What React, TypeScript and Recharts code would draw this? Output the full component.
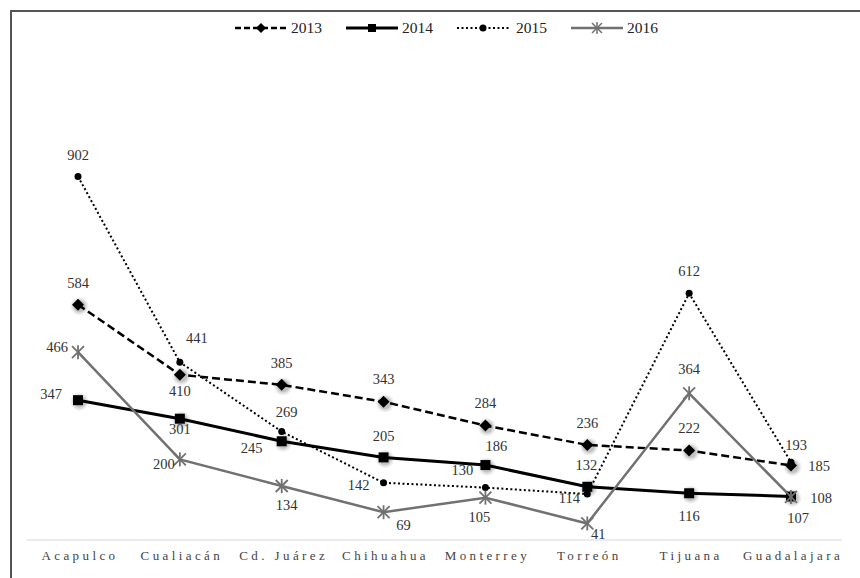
import { LineChart, Line, XAxis, YAxis, LabelList } from 'recharts'

const cities = ['Acapulco', 'Cualiacán', 'Cd. Juárez', 'Chihuahua', 'Monterrey', 'Torreón', 'Tijuana', 'Guadalajara']
const v2013 = [584, 410, 385, 343, 284, 236, 222, 185]
const v2014 = [347, 301, 245, 205, 186, 132, 116, 108]
const v2015 = [902, 441, 269, 142, 130, 114, 612, 193]
const v2016 = [466, 200, 134, 69, 105, 41, 364, 107]

// where each value label sits, relative to its point (dx, dy)
const lbl2013 = [[0, -22], [0, 16], [0, -22], [0, -23], [0, -23], [0, -22], [0, -23], [28, 1]]
const lbl2014 = [[-27, -6], [0, 10], [-30, 7], [0, -21], [11, -19], [-1, -22], [0, 23], [30, 2]]
const lbl2015 = [[0, -21], [17, -24], [5, -20], [-25, 2], [-23, -18], [-18, 4], [0, -22], [5, -17]]
const lbl2016 = [[-21, -5], [-16, 5], [5, 19], [20, 13], [-6, 19], [11, 11], [0, -24], [7, 21]]

const data = cities.map((city, i) => ({
  city,
  y2013: v2013[i],
  y2014: v2014[i],
  y2015: v2015[i],
  y2016: v2016[i],
}))

const FONT = '"Liberation Serif", "Times New Roman", serif'
const GRAY = '#717171'

// soft grey halo behind the black markers, like the original's shadowed points
const Halo = ({ cx, cy }: any) => (
  <g>
    <circle cx={cx + 1.5} cy={cy + 1.5} r={9} fill="#000" opacity={0.06} />
    <circle cx={cx + 1.5} cy={cy + 1.5} r={7.5} fill="#000" opacity={0.08} />
    <circle cx={cx + 1.5} cy={cy + 1.5} r={6} fill="#000" opacity={0.12} />
  </g>
)

const Diamond = ({ cx, cy }: any) => (
  <g>
    <Halo cx={cx} cy={cy} />
    <polygon points={`${cx},${cy - 6} ${cx + 6},${cy} ${cx},${cy + 6} ${cx - 6},${cy}`} fill="#000" />
  </g>
)
const Square = ({ cx, cy }: any) => (
  <g>
    <Halo cx={cx} cy={cy} />
    <rect x={cx - 5} y={cy - 5} width={10} height={10} fill="#000" />
  </g>
)
const Dot = ({ cx, cy }: any) => <circle cx={cx} cy={cy} r={3.5} fill="#000" />
const Star = ({ cx, cy }: any) => (
  <g stroke={GRAY} strokeWidth={1.8}>
    <line x1={cx - 6} y1={cy - 6} x2={cx + 6} y2={cy + 6} />
    <line x1={cx - 6} y1={cy + 6} x2={cx + 6} y2={cy - 6} />
    <line x1={cx} y1={cy - 7} x2={cx} y2={cy + 7} />
  </g>
)

const makeLabel = (offs: number[][]) => (p: any) => {
  const [dx, dy] = offs[p.index]
  return (
    <text x={p.x + dx} y={p.y + dy + 5} textAnchor="middle" fontFamily={FONT} fontSize={14.5} fill="#333">
      {p.value}
    </text>
  )
}

const CityTick = ({ x, y, payload }: any) => (
  <text x={x + 2} y={y + 12} textAnchor="middle" fontFamily={FONT} fontSize={13} letterSpacing={3.4} fill="#444">
    {payload.value}
  </text>
)

const legendItems = [
  { name: '2013', mark: 'diamond' },
  { name: '2014', mark: 'square' },
  { name: '2015', mark: 'dot' },
  { name: '2016', mark: 'star' },
]

function LegendIcon({ mark }: { mark: string }) {
  const stroke = mark === 'star' ? GRAY : '#000'
  const dash = mark === 'diamond' ? '6 3' : mark === 'dot' ? '2 2.5' : undefined
  const w = mark === 'square' ? 3 : 2.5
  return (
    <svg width={52} height={14} style={{ display: 'block' }}>
      <line x1={0} y1={7} x2={52} y2={7} stroke={stroke} strokeWidth={mark === 'dot' ? 2 : w} strokeDasharray={dash} />
      {mark === 'diamond' && <polygon points="26,2 31,7 26,12 21,7" fill="#000" />}
      {mark === 'square' && <rect x={22} y={3} width={8} height={8} fill="#000" />}
      {mark === 'dot' && <circle cx={26} cy={7} r={3.5} fill="#000" />}
      {mark === 'star' && (
        <g stroke={GRAY} strokeWidth={1.5}>
          <line x1={21} y1={2} x2={31} y2={12} />
          <line x1={21} y1={12} x2={31} y2={2} />
          <line x1={26} y1={1} x2={26} y2={13} />
        </g>
      )}
    </svg>
  )
}

export default function App() {
  return (
    <div style={{ position: 'absolute', top: 0, left: 0, width: 860, height: 578, background: '#fff', overflow: 'hidden' }}>
      <div
        style={{
          position: 'absolute',
          left: 10,
          top: 10,
          width: 860,
          height: 600,
          borderTop: '2px solid #555',
          borderLeft: '2px solid #555',
        }}
      />
      <div style={{ position: 'absolute', left: 235, top: 19, display: 'flex', alignItems: 'center', fontFamily: FONT, fontSize: 15.5, color: '#222' }}>
        {legendItems.map((it) => (
          <div key={it.name} style={{ display: 'flex', alignItems: 'center', marginRight: 24 }}>
            <LegendIcon mark={it.mark} />
            <span style={{ marginLeft: it.mark === 'dot' ? 7 : 4 }}>{it.name}</span>
          </div>
        ))}
      </div>
      <div style={{ position: 'absolute', left: 0, top: 0 }}>
        <LineChart width={860} height={578} data={data} margin={{ top: 137, right: 18, left: 27, bottom: 8 }}>
          <XAxis
            dataKey="city"
            height={30}
            padding={{ left: 51, right: 51 }}
            axisLine={{ stroke: '#d6d6d6' }}
            tickLine={false}
            tick={<CityTick />}
            interval={0}
          />
          <YAxis hide domain={[0, 1000]} />
          <Line
            dataKey="y2013"
            stroke="#000"
            strokeWidth={2.5}
            strokeDasharray="8 4"
            dot={<Diamond />}
            activeDot={false}
            isAnimationActive={false}
          >
            <LabelList dataKey="y2013" content={makeLabel(lbl2013)} />
          </Line>
          <Line
            dataKey="y2014"
            stroke="#000"
            strokeWidth={3}
            dot={<Square />}
            activeDot={false}
            isAnimationActive={false}
          >
            <LabelList dataKey="y2014" content={makeLabel(lbl2014)} />
          </Line>
          <Line
            dataKey="y2015"
            stroke="#000"
            strokeWidth={2}
            strokeDasharray="2 2.5"
            dot={<Dot />}
            activeDot={false}
            isAnimationActive={false}
          >
            <LabelList dataKey="y2015" content={makeLabel(lbl2015)} />
          </Line>
          <Line
            dataKey="y2016"
            stroke={GRAY}
            strokeWidth={2.5}
            dot={<Star />}
            activeDot={false}
            isAnimationActive={false}
          >
            <LabelList dataKey="y2016" content={makeLabel(lbl2016)} />
          </Line>
        </LineChart>
      </div>
    </div>
  )
}
